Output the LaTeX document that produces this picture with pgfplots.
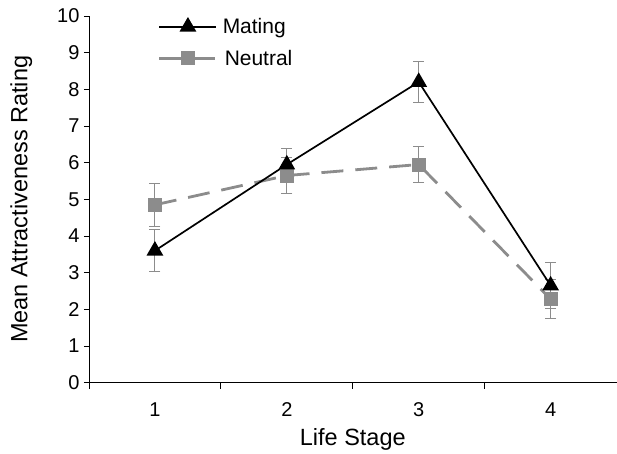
\documentclass[border=0pt]{standalone}
\usepackage{pgfplots}
\pgfplotsset{compat=1.18}
\usepackage{fontspec}
\setmainfont{Liberation Sans}

\definecolor{neutralgray}{RGB}{140,140,140}

\begin{document}
\begin{tikzpicture}
\begin{axis}[
    scale only axis,
    width=528pt, height=367pt,
    xmin=0.5, xmax=4.5,
    ymin=0, ymax=10,
    axis lines*=left,
    axis line style={line width=0.8pt},
    xtick={1,2,3,4},
    major x tick style={draw=none},
    minor xtick={0.5,1.5,2.5,3.5},
    minor x tick style={black, line width=0.8pt},
    minor tick length=6pt,
    ytick={0,1,...,10},
    major tick length=5pt,
    tick align=outside,
    tick style={black, line width=0.8pt},
    tick label style={font=\fontsize{20}{22}\selectfont},
    xticklabel style={yshift=-11pt},
    yticklabel style={xshift=-1pt},
    /pgf/number format/assume math mode=true,
    xlabel={Life Stage},
    ylabel={Mean Attractiveness Rating},
    label style={font=\fontsize{23.5}{25}\selectfont},
    xlabel style={yshift=-5pt},
    ylabel style={yshift=18pt},
    legend style={at={(0.125,1.005)}, anchor=north west, draw=none, fill=none,
        font=\fontsize{21}{23}\selectfont, row sep=11pt},
    legend cell align=left,
    reverse legend,
    legend image code/.code={
        \draw[mark repeat=2,mark phase=2] plot coordinates {(0cm,0cm) (1cm,0cm) (2cm,0cm)};
    },
    clip=false,
]
\addplot[neutralgray, line width=2.8pt, dash pattern=on 22pt off 12pt,
    mark=square*, mark size=6.5pt, mark options={solid, fill=neutralgray, draw=neutralgray, line width=0pt},
    error bars/.cd, y dir=both, y explicit,
    error bar style={neutralgray, line width=1pt, solid},
    error mark options={rotate=90, mark size=5.5pt, neutralgray, line width=1pt}]
    coordinates {
    (1,4.85) +- (0,0.58)
    (2,5.65) +- (0,0.50)
    (3,5.95) +- (0,0.48)
    (4,2.28) +- (0,0.53)
    };
\addlegendentry{\hspace{5pt}Neutral}
\addplot[black, line width=1.7pt,
    mark=triangle*, mark size=8pt, mark options={solid, fill=black},
    error bars/.cd, y dir=both, y explicit,
    error bar style={neutralgray, line width=1pt},
    error mark options={rotate=90, mark size=5.5pt, neutralgray, line width=1pt}]
    coordinates {
    (1,3.60) +- (0,0.57)
    (2,5.95) +- (0,0.45)
    (3,8.20) +- (0,0.55)
    (4,2.65) +- (0,0.62)
    };
\addlegendentry{\hspace{3pt}Mating}
\end{axis}
\path ([xshift=-89pt,yshift=-71pt]current axis.south west) ([yshift=16pt]current axis.north east);
\end{tikzpicture}
\end{document}
